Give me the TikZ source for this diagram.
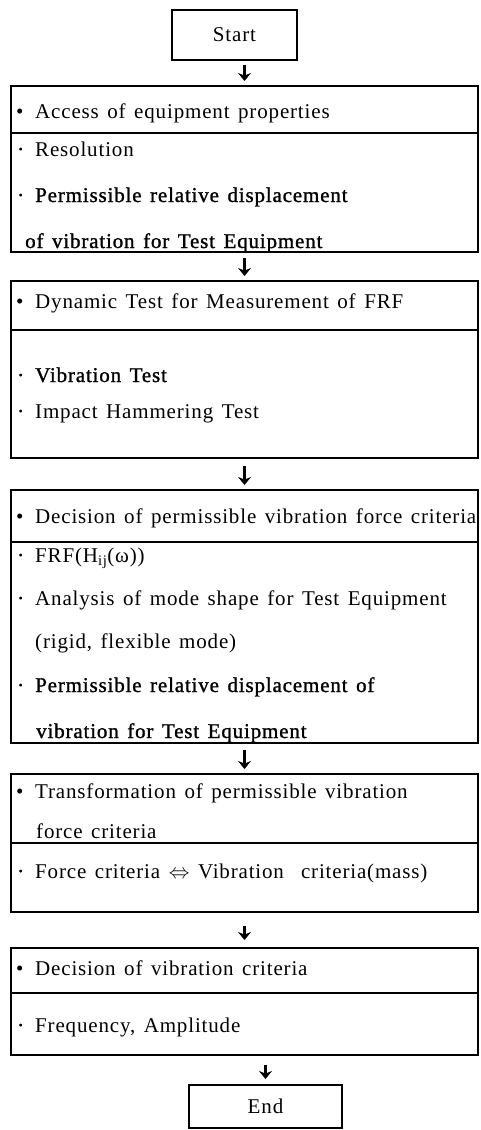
\documentclass[tikz,border=0pt]{standalone}
\usepackage{fontspec}
\setmainfont{Liberation Serif}[LetterSpace=4,WordSpace=1.4]
\newfontfamily\heavyfont{Liberation Serif}[LetterSpace=4,WordSpace=1.4,FakeBold=1.2]
\usepackage{tikz}
\usetikzlibrary{arrows.meta,positioning}
\newcommand{\lmark}[1]{\makebox[19pt][l]{#1}}
\newcommand{\sdot}{\lmark{\hspace{1pt}{\heavyfont ·}}}

\begin{document}
\begin{tikzpicture}[
    x=1pt, y=-1pt,
    box/.style={draw, line width=1.1pt, outer sep=0pt, inner sep=0pt, minimum width=467pt},
    termbox/.style={draw, line width=1.1pt, outer sep=0pt, font=\fontsize{21}{25}\selectfont},
    line/.style={anchor=base west, inner sep=0pt, font=\fontsize{21}{25}\selectfont},
    heavy/.style={line, font=\fontsize{21}{25}\heavyfont},
    flow/.style={-{Stealth[length=8pt,width=13pt]}, line width=2.6pt, shorten <=5pt, shorten >=5pt}
]
    \useasboundingbox (0,0) rectangle (480,1130);

    % Start
    \node[termbox, minimum width=125pt, minimum height=50pt] (start) at (234.5,35) {Start};

    % Access of equipment properties
    \node[box, minimum height=47pt] (acchead) at (244.5,109.5) {};
    \node[box, minimum height=119pt, below=0pt of acchead] (accbody) {};
    \node[line] (acc1) at (16,118) {\lmark{•}Access of equipment properties};
    \node[line] (acc2) at (16,156) {\sdot Resolution};
    \node[heavy] (acc3) at (16,202) {\sdot Permissible relative displacement};
    \node[heavy] (acc4) at (25,248) {of vibration for Test Equipment};

    % Dynamic test
    \node[box, minimum height=49pt] (dynhead) at (244.5,305.5) {};
    \node[box, minimum height=128pt, below=0pt of dynhead] (dynbody) {};
    \node[line] (dyn1) at (16,308) {\lmark{•}Dynamic Test for Measurement of FRF};
    \node[heavy] (dyn2) at (16,382) {\sdot Vibration Test};
    \node[line] (dyn3) at (16,418) {\sdot Impact Hammering Test};

    % Decision of force criteria
    \node[box, minimum height=52pt] (dechead) at (244.5,516) {};
    \node[box, minimum height=201pt, below=0pt of dechead] (decbody) {};
    \node[line] (dec1) at (16,523) {\lmark{•}Decision of permissible vibration force criteria};
    \node[line] (dec2) at (16,562) {\sdot FRF(H\textsubscript{ij}(ω))};
    \node[line] (dec3) at (16,605) {\sdot Analysis of mode shape for Test Equipment};
    \node[line] (dec4) at (35,648) {(rigid, flexible mode)};
    \node[heavy] (dec5) at (16,692) {\sdot Permissible relative displacement of};
    \node[heavy] (dec6) at (36,738) {vibration for Test Equipment};

    % Transformation
    \node[box, minimum height=69pt] (transhead) at (244.5,808.5) {};
    \node[box, minimum height=69pt, below=0pt of transhead] (transbody) {};
    \node[line] (trans1) at (16,798) {\lmark{•}Transformation of permissible vibration};
    \node[line] (trans2) at (36,838) {force criteria};
    \node[line] (trans3) at (16,878) {\sdot Force criteria $\Leftrightarrow$ Vibration\ \ criteria(mass)};

    % Decision of vibration criteria
    \node[box, minimum height=45pt] (crithead) at (244.5,970.5) {};
    \node[box, minimum height=62pt, below=0pt of crithead] (critbody) {};
    \node[line] (crit1) at (16,975) {\lmark{•}Decision of vibration criteria};
    \node[line] (crit2) at (16,1032) {\sdot Frequency, Amplitude};

    % End
    \node[termbox, minimum width=153pt, minimum height=43pt] (end) at (265.5,1106.5) {End};

    \draw[flow] (start.south -| acchead.north) -- (acchead.north);
    \draw[flow, shorten <=6pt] (accbody.south) -- (dynhead.north);
    \draw[flow, shorten <=8pt] (dynbody.south) -- (dechead.north);
    \draw[flow, shorten <=7pt] (decbody.south) -- (transhead.north);
    \draw[flow, shorten <=14pt, shorten >=8pt] (transbody.south) -- (crithead.north);
    \draw[flow, shorten <=10pt, shorten >=6pt] (critbody.south -| end.north) -- (end.north);
\end{tikzpicture}
\end{document}
